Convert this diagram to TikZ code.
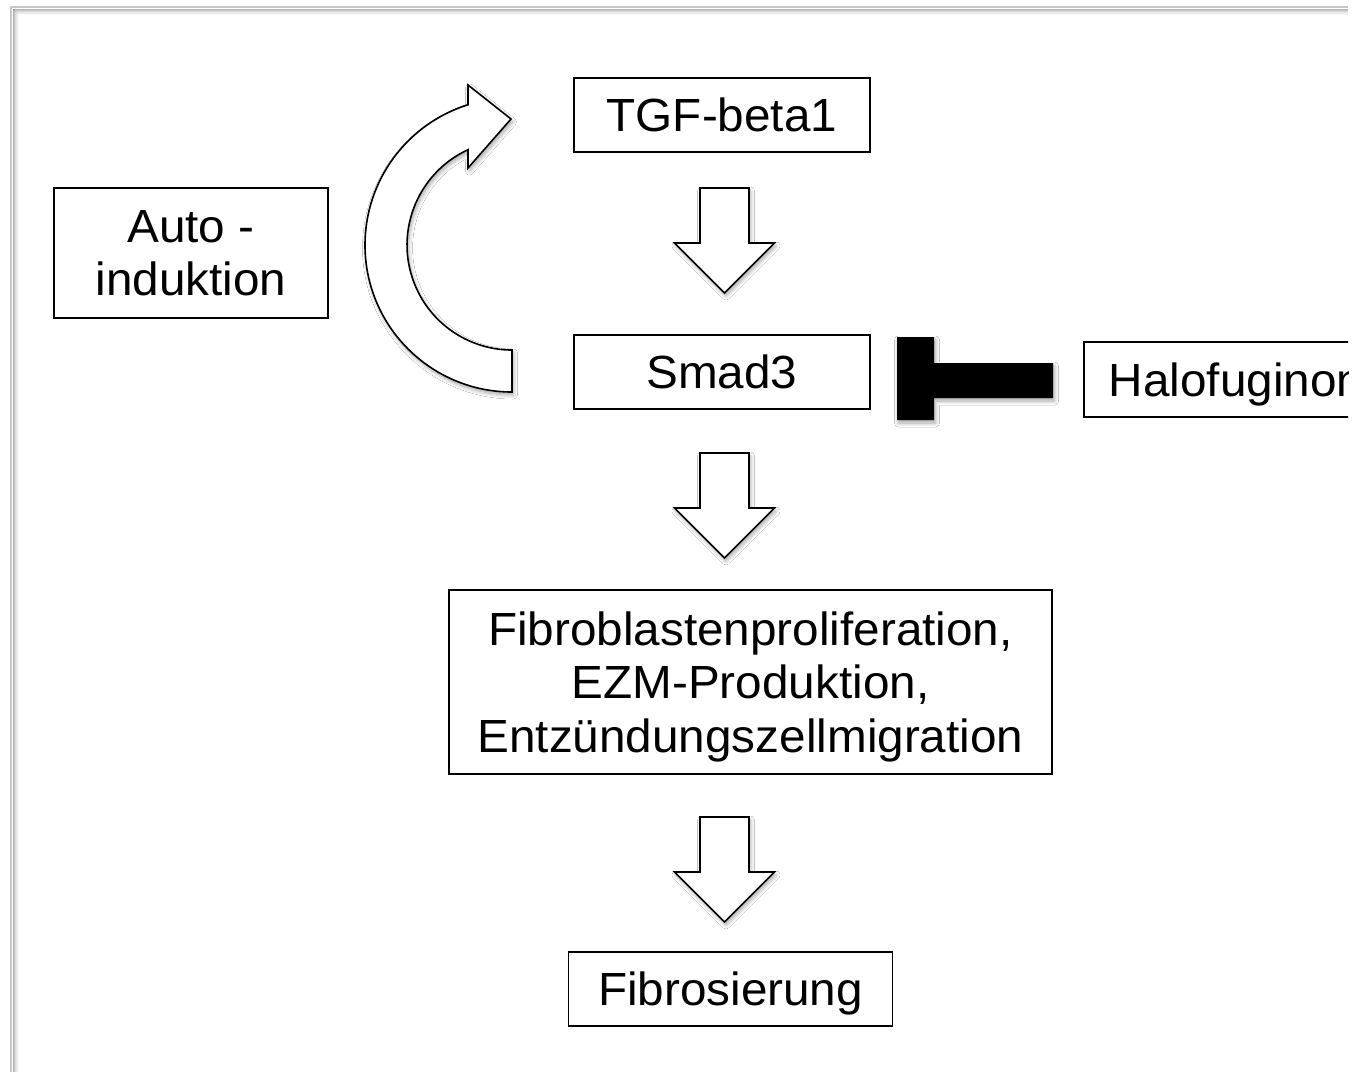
\documentclass[tikz,border=0pt]{standalone}
\usepackage{fontspec}
\setmainfont{Liberation Sans}[FakeStretch=1.025]
\usetikzlibrary{shadows.blur,calc}

\tikzset{
  box/.style={draw=black, line width=1.6pt, fill=white, inner sep=0pt,
    align=center, text depth=0pt, font=\fontsize{46.5}{53.7}\selectfont},
  softshadow/.style={blur shadow={shadow xshift=1.5pt, shadow yshift=-3pt,
    shadow blur radius=4pt, shadow blur steps=8, shadow opacity=35}},
  shapeline/.style={draw=black, line width=1.6pt, fill=white, line join=miter},
  framegray/.style={draw=black!22, line width=2pt},
  blockdown/.pic={
    \path[shapeline, softshadow] (-24.5,0) -- (24.5,0) -- (24.5,55) -- (50,55)
      -- (0,105) -- (-50,55) -- (-24.5,55) -- cycle;
  }
}

\begin{document}
\begin{tikzpicture}[x=1pt, y=-1pt]
  \useasboundingbox (0,0) rectangle (1361,1072);
  \fill[white] (0,0) rectangle (1361,1072);

  % slide frame with a soft edge
  \foreach \d/\o in {1/0.30, 2/0.22, 3/0.15, 4/0.10, 5/0.06, 6/0.03} {
    \draw[black, line width=1pt, opacity=\o] (12+\d,8+\d) -- (1348,8+\d);
    \draw[black, line width=1pt, opacity=\o] (12+\d,8+\d) -- (12+\d,1072);
  }
  \draw[framegray] (10,7) -- (1348,7);
  \draw[framegray] (11,7) -- (11,1072);

  \begin{scope}
    \clip (0,0) rectangle (1348,1072);

    % boxes
    \node[box, minimum width=296pt, minimum height=74pt] (tgf) at (722,115) {TGF-beta1};
    \node[box, minimum width=296pt, minimum height=74pt] (smad) at (722,372) {Smad3};
    \node[box, minimum width=274pt, minimum height=130pt] (auto) at (191,253) {Auto -\\induktion};
    \node[box, anchor=west, minimum height=75pt, inner xsep=25pt] (halo) at (1083,379.5) {Halofuginon};
    \node[box, minimum width=603pt, minimum height=184pt] (fibro) at (750.5,682)
      {Fibroblastenproliferation,\\EZM-Produktion,\\Entzündungszellmigration};
    \node[box, minimum width=324pt, minimum height=74pt] (fibros) at (730.5,989) {Fibrosierung};

    % block arrows down the chain
    \pic at (724.5,188) {blockdown};
    \pic at (724.5,453) {blockdown};
    \pic at (724.5,817) {blockdown};

    % curved auto-induction arrow from Smad3 back to TGF-beta1
    \path[shapeline, softshadow]
      (512,392) arc[start angle=90, end angle=252.6, radius=147]
      -- (468,85) -- (511,119) -- (468,168) -- (468,149.7)
      arc[start angle=245.2, end angle=90, radius=105] -- cycle;

    % inhibition bar from Halofuginon onto Smad3
    \coordinate (inhA) at ($(halo.west)+(-30,0)$);
    \fill[black, softshadow] (897,337) -- (934,337) -- (934,363) -- (inhA |- 0,363)
      -- (inhA |- 0,398) -- (934,398) -- (934,420) -- (897,420) -- cycle;
  \end{scope}
\end{tikzpicture}
\end{document}
